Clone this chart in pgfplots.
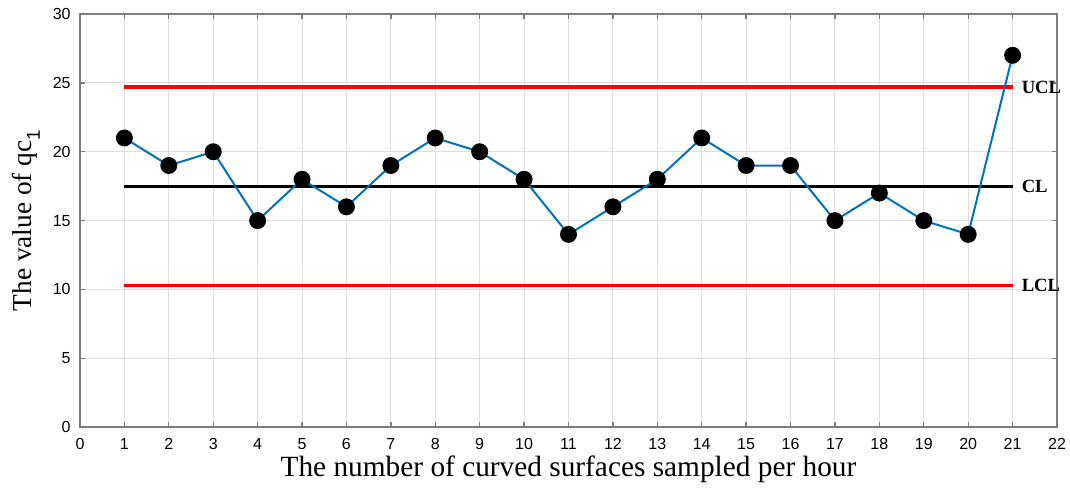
\documentclass[border=0pt]{standalone}
\usepackage{pgfplots}
\pgfplotsset{compat=1.18}
\usepackage{fontspec}
\setmainfont{Liberation Serif}
\newfontfamily\ticksans{Liberation Sans}
\definecolor{mblue}{RGB}{0,114,189}
\definecolor{axgray}{RGB}{125,125,125}
\definecolor{gridgray}{RGB}{222,222,222}
\begin{document}
\begin{tikzpicture}
\begin{axis}[
  scale only axis,
  width=733pt, height=310pt,
  xmin=0, xmax=22, ymin=0, ymax=30,
  xtick={0,1,...,22}, ytick={0,5,...,30},
  grid=major,
  major grid style={gridgray, line width=0.7pt},
  axis line style={axgray, line width=1.3pt},
  tick style={axgray, line width=1pt},
  tick align=inside,
  major tick length=4pt,
  /pgf/number format/assume math mode=true,
  tick label style={font=\ticksans\fontsize{12}{13}\selectfont, text=black},
  xticklabel style={yshift=-5pt},
  yticklabel style={xshift=-3.5pt},
  xlabel={The number of curved surfaces sampled per hour},
  ylabel={The value of qc\raisebox{-0.7ex}{\ticksans\fontsize{14}{16}\selectfont 1}},
  xlabel style={font=\fontsize{22}{24}\selectfont, at={(axis description cs:0.5,-0.103)}, anchor=center},
  ylabel style={font=\fontsize{20.5}{23}\selectfont, at={(axis description cs:-0.0553,0.5)}, anchor=center},
  clip=false,
]
\addplot[red, line width=2.3pt] coordinates {(1,24.7) (21,24.7)};
\addplot[black, line width=2.3pt] coordinates {(1,17.5) (21,17.5)};
\addplot[red, line width=2.3pt] coordinates {(1,10.3) (21,10.3)};
\addplot[mblue, line width=1.5pt, mark=*, mark size=5.6pt,
  mark options={fill=black, draw=black}] coordinates {
(1,21) (2,19) (3,20) (4,15) (5,18) (6,16) (7,19) (8,21) (9,20) (10,18)
(11,14) (12,16) (13,18) (14,21) (15,19) (16,19) (17,15) (18,17) (19,15) (20,14) (21,27)
};
\node[anchor=west, font=\bfseries\fontsize{14}{16}\selectfont, inner sep=0pt] at (axis cs:21.2,24.7) {UCL};
\node[anchor=west, font=\bfseries\fontsize{14}{16}\selectfont, inner sep=0pt] at (axis cs:21.2,17.5) {CL};
\node[anchor=west, font=\bfseries\fontsize{14}{16}\selectfont, inner sep=0pt] at (axis cs:21.2,10.3) {LCL};
\end{axis}
\pgfresetboundingbox
\path ([shift={(-60pt,-52pt)}]current axis.south west) rectangle ([shift={(9.75pt,10.5pt)}]current axis.north east);
\end{tikzpicture}
\end{document}
